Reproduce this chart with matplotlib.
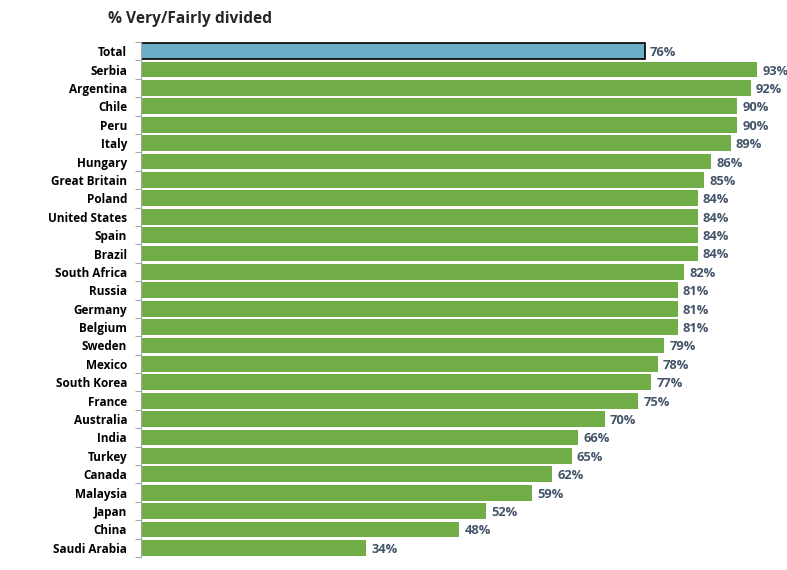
import matplotlib
matplotlib.use('Agg')
import matplotlib.pyplot as plt
import numpy as np

countries = ['Total', 'Serbia', 'Argentina', 'Chile', 'Peru', 'Italy', 'Hungary',
             'Great Britain', 'Poland', 'United States', 'Spain', 'Brazil',
             'South Africa', 'Russia', 'Germany', 'Belgium', 'Sweden', 'Mexico',
             'South Korea', 'France', 'Australia', 'India', 'Turkey', 'Canada',
             'Malaysia', 'Japan', 'China', 'Saudi Arabia']
values = [76, 93, 92, 90, 90, 89, 86, 85, 84, 84, 84, 84, 82, 81, 81, 81, 79,
          78, 77, 75, 70, 66, 65, 62, 59, 52, 48, 34]

plt.rcParams['font.family'] = ['Open Sans', 'DejaVu Sans']

fig = plt.figure(figsize=(7.87, 5.70), dpi=100)
ax = fig.add_axes([141 / 787, 13 / 570, 1 - 141 / 787, (557 - 42) / 570])

y = np.arange(len(countries))
colors = ['#6AAFC7'] + ['#70AD47'] * (len(countries) - 1)
bars = ax.barh(y, values, height=0.86, color=colors, zorder=2)
bars[0].set_edgecolor('black')
bars[0].set_linewidth(1.2)

for yi, v in zip(y, values):
    ax.text(v + 0.8, yi + 0.08, f'{v}%', va='center', ha='left', fontsize=9.3,
            fontweight='bold', color='#44546A', clip_on=False)

ax.set_ylim(len(countries) - 0.5, -0.5)
ax.set_xlim(0, 97.5)
ax.set_yticks(y)
ax.set_yticklabels(countries, fontsize=8.5, fontweight='bold', color='black')
ax.set_yticks(np.arange(-0.5, len(countries)), minor=True)
ax.tick_params(axis='y', which='major', length=0, pad=10)
ax.tick_params(axis='y', which='minor', length=4, color='#A6A6A6', width=0.8)
ax.set_xticks([])
for s in ['top', 'right', 'bottom']:
    ax.spines[s].set_visible(False)
ax.spines['left'].set_color('#A6A6A6')
ax.spines['left'].set_linewidth(0.8)

fig.text(108 / 787, 1 - 19 / 570, '% Very/Fairly divided', fontsize=11.2,
         fontweight='bold', color='#262626', va='center', ha='left')

fig.savefig('out.png', dpi=100)
